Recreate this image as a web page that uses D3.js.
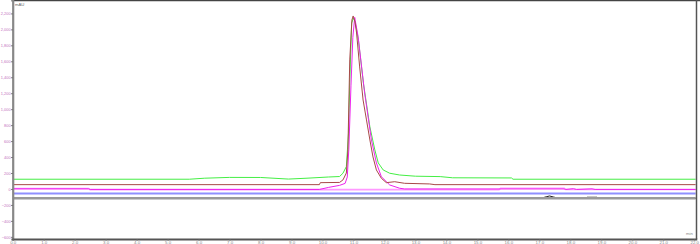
<!DOCTYPE html>
<html>
<head>
<meta charset="utf-8">
<script src="https://cdn.jsdelivr.net/npm/d3@7"></script>
<style>
  body { margin: 0; background: #fff; }
  svg { display: block; font-family: "Liberation Sans", Arial, sans-serif; }
</style>
</head>
<body>
<div id="chart"></div>
<script>
// DATA (time in min, signal in mAU)
const yTicks = [-600, -400, -200, 0, 200, 400, 600, 800, 1000, 1200, 1400, 1600, 1800, 2000, 2200, 2400]
const xTicks = [0, 1, 2, 3, 4, 5, 6, 7, 8, 9, 10, 11, 12, 13, 14, 15, 16, 17, 18, 19, 20, 21, 22]

const greenT = [0, 5.7, 6.2, 7.0, 8.0, 8.9, 9.5, 10.2, 10.55, 10.66, 10.77, 10.84, 10.88, 10.94, 11.0, 11.05, 11.16, 11.32, 11.53, 11.69, 11.8, 11.96, 12.17, 12.49, 13.0, 13.8, 14.2, 16.1, 16.15, 22.05]
const greenV = [122, 122, 135, 145, 144, 124, 135, 150, 156, 197, 280, 700, 1330, 2080, 2140, 2100, 1867, 1328, 777, 489, 326, 238, 197, 175, 160, 155, 140, 138, 122, 122]

const brownT = [0, 9.9, 9.93, 10.55, 10.66, 10.77, 10.82, 10.88, 10.95, 10.99, 11.05, 11.10, 11.20, 11.31, 11.42, 11.53, 11.63, 11.74, 11.90, 12.06, 12.33, 12.65, 13.46, 13.63, 22.05]
const brownV = [54, 54, 79, 82, 113, 200, 490, 1617, 2118, 2168, 2093, 1955, 1529, 1115, 865, 614, 401, 238, 134, 79, 91, 71, 63, 54, 54]

const pinkT = [0, 2.45, 2.5, 15.7, 15.75, 17.8, 17.85, 22.05]
const pinkV = [4, 4, -8, -8, 9, 9, -6, -6]

const magentaT = [0, 2.45, 2.5, 9.9, 10.2, 10.55, 10.73, 10.8, 10.85, 10.92, 10.98, 11.04, 11.15, 11.36, 11.58, 11.74, 11.90, 12.17, 12.49, 12.65, 17.8, 17.85, 18.1, 18.2, 18.7, 18.8, 22.05]
const magentaV = [2, 2, -6, -6, 20, 45, 70, 150, 500, 1300, 1900, 2150, 1908, 1203, 614, 326, 154, 50, 9, 0, 0, -6, 4, -6, 2, -6, -6]

const blueT = [0, 22.05]
const blueV = [-56, -56]

const grayT = [0, 22.05]
const grayV = [-117, -117]

const blackT = [0, 17.05, 17.22, 17.33, 17.45, 17.62, 18.5, 18.55, 18.85, 18.9, 22.05]
const blackV = [-117, -117, -98, -88, -100, -117, -117, -104, -104, -117, -117]

// black goes under the gray so only its bumps show
const series = [
  { t: blackT, v: blackV, color: '#222', width: 1 },
  { t: grayT, v: grayV, color: '#9a9a9a', width: 2.5 },
  { t: blueT, v: blueV, color: '#9090ff', width: 2 },
  { t: greenT, v: greenV, color: '#44ee44', width: 1 },
  { t: pinkT, v: pinkV, color: '#ff99ff', width: 1.6 },
  { t: magentaT, v: magentaV, color: '#ee22ee', width: 1 },
  { t: brownT, v: brownV, color: '#a84848', width: 1 },
]

const width = 700, height = 244
const plot = { left: 12.7, right: 695.8, top: 0, bottom: 239 }

const svg = d3.select('#chart').append('svg')
  .attr('width', width)
  .attr('height', height)

const x = d3.scaleLinear().domain([0, 22.05]).range([plot.left, plot.right])
const y = d3.scaleLinear().domain([-627, 2368]).range([plot.bottom, plot.top])

svg.append('clipPath').attr('id', 'clip')
  .append('rect')
  .attr('x', plot.left).attr('y', plot.top)
  .attr('width', plot.right - plot.left).attr('height', plot.bottom - plot.top)

// traces
const traces = svg.append('g').attr('clip-path', 'url(#clip)')
series.forEach(s => {
  const pts = s.t.map((t, i) => [t, s.v[i]])
  traces.append('path')
    .datum(pts)
    .attr('d', d3.line().x(d => x(d[0])).y(d => y(d[1])))
    .attr('fill', 'none')
    .attr('stroke', s.color)
    .attr('stroke-width', s.width)
})

// frame
svg.append('line').attr('x1', plot.left).attr('x2', width).attr('y1', 0.5).attr('y2', 0.5)
  .attr('stroke', '#444').attr('stroke-width', 1.5)
svg.append('line').attr('x1', 696.5).attr('x2', 696.5).attr('y1', 0).attr('y2', plot.bottom)
  .attr('stroke', '#555').attr('stroke-width', 1.5)

// y axis
const yAxis = svg.append('g')
  .attr('transform', `translate(${plot.left},0)`)
  .call(d3.axisLeft(y).tickValues(yTicks).tickSize(1.5).tickPadding(0.6).tickFormat(d3.format(',')))
yAxis.select('.domain').attr('stroke', '#888').attr('stroke-width', 2.2)
yAxis.selectAll('.tick line').attr('stroke', '#666')
yAxis.selectAll('text').attr('fill', '#c070c0').style('font-size', '3.9px')

// x axis
const xAxis = svg.append('g')
  .attr('transform', `translate(0,${plot.bottom})`)
  .call(d3.axisBottom(x).tickValues(xTicks).tickSize(1.5).tickPadding(0.5).tickFormat(d3.format('.1f')))
xAxis.select('.domain').attr('stroke', '#555').attr('stroke-width', 2)
xAxis.selectAll('.tick line').attr('stroke', '#666')
xAxis.selectAll('text').attr('fill', '#888').style('font-size', '4.4px')

// unit labels
svg.append('text').attr('x', 15).attr('y', 5.5).text('mAU')
  .style('font-size', '4.2px').attr('fill', '#666')
svg.append('text').attr('x', 686).attr('y', 235).text('min')
  .style('font-size', '4.2px').attr('fill', '#888')
</script>
</body>
</html>
